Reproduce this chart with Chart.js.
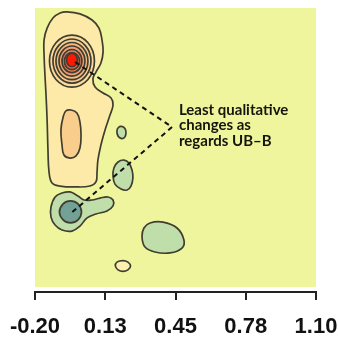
<!DOCTYPE html>
<html lang="en">
<head>
<meta charset="UTF-8">
<title>Contour map</title>
<script src="https://cdn.jsdelivr.net/npm/chart.js"></script>
<style>
  html, body { margin: 0; padding: 0; background: #fff; }
</style>
</head>
<body>
<canvas id="map" width="338" height="339"></canvas>
<script>
  // axis
  const xTicks = [-0.20, 0.125, 0.45, 0.775, 1.10];
  const xTickLabels = ['-0.20', '0.13', '0.45', '0.78', '1.10'];

  // contour outlines (x, y in plot units)
  const outerWarm = [[-0.052,1.082],[0.008,1.073],[0.064,1.045],[0.096,1.008],[0.110,0.954],[0.115,0.899],[0.105,0.848],[0.082,0.807],[0.068,0.775],[0.078,0.738],[0.115,0.711],[0.152,0.688],[0.161,0.656],[0.147,0.610],[0.124,0.542],[0.105,0.473],[0.091,0.404],[0.087,0.349],[0.082,0.304],[0.054,0.285],[-0.015,0.281],[-0.084,0.285],[-0.121,0.299],[-0.135,0.349],[-0.140,0.450],[-0.144,0.587],[-0.149,0.702],[-0.154,0.793],[-0.158,0.885],[-0.158,0.954],[-0.144,1.008],[-0.117,1.054],[-0.084,1.077]];
  const ring1 = [[0.075,0.857],[0.045,0.941],[-0.029,0.976],[-0.103,0.941],[-0.133,0.857],[-0.103,0.773],[-0.029,0.738],[0.045,0.773]];
  const ring2 = [[0.059,0.857],[0.033,0.928],[-0.029,0.958],[-0.091,0.928],[-0.117,0.857],[-0.091,0.786],[-0.029,0.756],[0.033,0.786]];
  const ring3 = [[0.045,0.857],[0.023,0.917],[-0.029,0.942],[-0.081,0.917],[-0.103,0.857],[-0.081,0.797],[-0.029,0.772],[0.023,0.797]];
  const ring4 = [[0.031,0.857],[0.013,0.906],[-0.029,0.926],[-0.071,0.906],[-0.089,0.857],[-0.071,0.808],[-0.029,0.788],[0.013,0.808]];
  const ring5 = [[0.017,0.857],[0.004,0.894],[-0.029,0.910],[-0.062,0.894],[-0.075,0.857],[-0.062,0.820],[-0.029,0.804],[0.004,0.820]];
  const ring6 = [[0.006,0.857],[-0.004,0.885],[-0.029,0.896],[-0.054,0.885],[-0.064,0.857],[-0.054,0.829],[-0.029,0.818],[-0.004,0.829]];
  const peak = [[-0.004,0.862],[-0.011,0.884],[-0.029,0.893],[-0.047,0.884],[-0.054,0.862],[-0.047,0.840],[-0.029,0.831],[-0.011,0.840]];
  const warmCore = [[-0.033,0.633],[-0.006,0.619],[0.008,0.578],[0.013,0.519],[0.008,0.459],[-0.010,0.423],[-0.038,0.413],[-0.066,0.427],[-0.075,0.473],[-0.080,0.542],[-0.070,0.601],[-0.057,0.629]];
  const greenSmall = [[0.200,0.558],[0.216,0.548],[0.221,0.528],[0.214,0.507],[0.198,0.503],[0.184,0.514],[0.179,0.537],[0.186,0.553]];
  const greenTilted = [[0.212,0.404],[0.235,0.390],[0.249,0.358],[0.253,0.322],[0.244,0.285],[0.226,0.267],[0.198,0.271],[0.170,0.294],[0.161,0.331],[0.165,0.368],[0.184,0.395]];
  const greenLeft = [[-0.107,0.235],[-0.075,0.253],[-0.038,0.258],[-0.001,0.239],[0.027,0.221],[0.064,0.221],[0.101,0.230],[0.138,0.235],[0.161,0.221],[0.161,0.194],[0.133,0.171],[0.082,0.157],[0.041,0.139],[0.008,0.102],[-0.029,0.079],[-0.075,0.084],[-0.107,0.107],[-0.126,0.143],[-0.126,0.189]];
  const greenLeftCore = [[0.015,0.166],[-0.001,0.203],[-0.036,0.217],[-0.070,0.203],[-0.087,0.166],[-0.070,0.130],[-0.036,0.116],[-0.001,0.130]];
  const greenLarge = [[0.332,0.116],[0.392,0.120],[0.457,0.093],[0.489,0.038],[0.480,0.001],[0.425,-0.021],[0.355,-0.017],[0.309,0.006],[0.295,0.052],[0.304,0.093]];
  const yellowSmall = [[0.242,-0.081],[0.230,-0.063],[0.207,-0.056],[0.179,-0.063],[0.172,-0.081],[0.184,-0.099],[0.207,-0.106],[0.230,-0.099]];

  // leader lines and note
  const leaderTop = [[-0.015,0.853],[0.434,0.555]];
  const leaderBottom = [[0.434,0.555],[-0.032,0.162]];
  const noteLines = ['Least qualitative', 'changes as', 'regards UB–B'];
  const noteAt = [0.466, 0.633];

  const LINE = '#403e30';
  const toXY = pts => pts.map(p => ({x: p[0], y: p[1]}));

  const layers = [
    [outerWarm, '#fde9a8'],
    [ring1, '#fcdc9c'],
    [ring2, '#f9cc8e'],
    [ring3, '#f5b880'],
    [ring4, '#f0a070'],
    [ring5, '#ea8462'],
    [ring6, '#e56650'],
    [peak, '#ff1800'],
    [warmCore, '#f9cd8c'],
    [greenSmall, '#bfdeaa'],
    [greenTilted, '#bfdeaa'],
    [greenLeft, '#bfdeaa'],
    [greenLeftCore, '#73a196'],
    [greenLarge, '#bfdeaa'],
    [yellowSmall, '#fcf0b0']
  ];

  const datasets = layers.map(([pts, col], i) => ({
    data: toXY(pts),
    closed: true,
    fill: 'shape',
    backgroundColor: col,
    borderColor: LINE,
    borderWidth: 1.7,
    tension: 0.4,
    pointRadius: 0,
    order: 100 - i
  }));
  [leaderTop, leaderBottom].forEach((pts, i) => datasets.push({
    data: toXY(pts),
    fill: false,
    borderColor: '#111',
    borderWidth: 2,
    borderDash: [5, 4],
    tension: 0,
    pointRadius: 0,
    order: 10 - i
  }));

  const plotBg = {
    id: 'plotBg',
    beforeDatasetsDraw(chart) {
      const {ctx, chartArea: a} = chart;
      ctx.save();
      ctx.fillStyle = '#eef59c';
      ctx.fillRect(a.left, a.top, a.right - a.left, a.bottom - a.top - 5);
      ctx.restore();
    }
  };

  // make contour outlines closed, smooth loops
  const closeLoops = {
    id: 'closeLoops',
    afterDatasetUpdate(chart, args) {
      if (chart.data.datasets[args.index].closed) {
        args.meta.dataset._loop = true;
        args.meta.dataset._fullLoop = true;
      }
    }
  };

  const note = {
    id: 'note',
    afterDatasetsDraw(chart) {
      const {ctx, scales} = chart;
      const x = scales.x.getPixelForValue(noteAt[0]);
      const y = scales.y.getPixelForValue(noteAt[1]);
      ctx.save();
      ctx.font = 'bold 15px Lato';
      ctx.fillStyle = '#15150d';
      ctx.textBaseline = 'middle';
      noteLines.forEach((t, i) => ctx.fillText(t, x, y + i * 15.5));
      ctx.restore();
    }
  };

  new Chart(document.getElementById('map'), {
    type: 'line',
    data: { datasets },
    plugins: [plotBg, closeLoops, note],
    options: {
      responsive: false,
      animation: false,
      events: [],
      layout: { padding: { left: 35, right: 22, top: 8, bottom: 0 } },
      plugins: { legend: { display: false }, tooltip: { enabled: false } },
      scales: {
        x: {
          type: 'linear',
          min: -0.20,
          max: 1.10,
          afterBuildTicks: s => { s.ticks = xTicks.map(v => ({ value: v })); },
          afterFit: s => {
            s.height = 47;
            s.paddingLeft = 0; s.paddingRight = 0;
            s.paddingTop = 0; s.paddingBottom = 0;
          },
          ticks: {
            callback: (v, i) => xTickLabels[i],
            font: { family: 'Liberation Sans', size: 22, weight: 'bold' },
            color: '#111',
            padding: 14,
            maxRotation: 0,
            autoSkip: false
          },
          grid: { drawOnChartArea: false, drawTicks: true, tickLength: 8, color: '#222', lineWidth: 2 },
          border: { display: true, color: '#222', width: 2 }
        },
        y: { display: false, min: -0.20, max: 1.10 }
      }
    }
  });
</script>
</body>
</html>
